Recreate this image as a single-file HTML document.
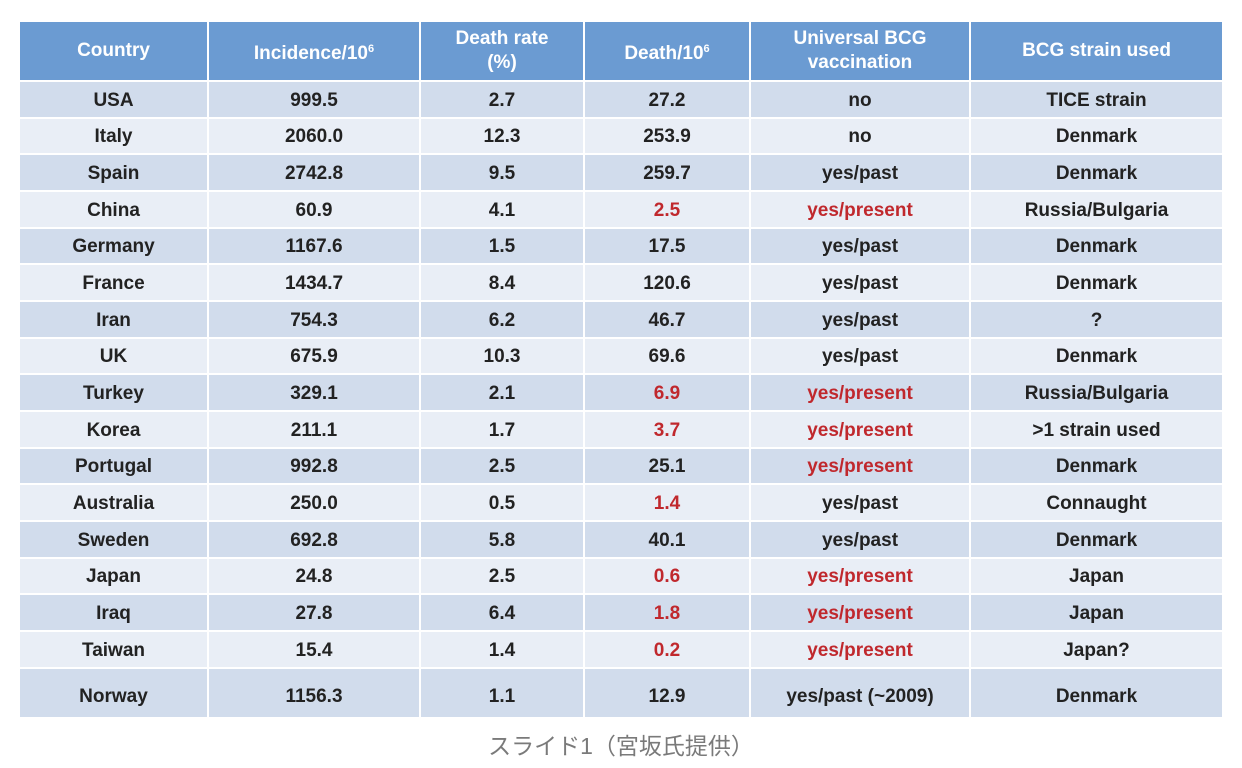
<!DOCTYPE html>
<html><head><meta charset="utf-8"><style>
html,body{margin:0;padding:0;background:#fff;width:1242px;height:768px;overflow:hidden}
table{position:absolute;left:20px;top:22px;border-collapse:collapse;table-layout:fixed;width:1202px;font-family:"Liberation Sans","Noto Sans CJK JP",sans-serif;font-weight:bold;font-size:19px;color:#222}
td,th{border:2px solid #fff;text-align:center;padding:0;box-sizing:border-box}
td{padding-top:3px}
table tr:first-child th{border-top:none}
td:first-child,th:first-child{border-left:none}
td:last-child,th:last-child{border-right:none}
th{background:#6b9bd2;color:#fff;height:59px;font-size:19px;line-height:24px}
tr.o td{background:#d1dcec}
tr.e td{background:#e9eef6}
td{height:36.67px}
tr.last td{height:49px;border-bottom:none;padding-top:9px}
.r{color:#c0282d}
sup{font-size:11px;vertical-align:7px}
.cap{position:absolute;top:727px;left:0;width:1242px;text-align:center;font-family:"Liberation Sans","Noto Sans CJK JP",sans-serif;font-size:23px;color:#7a7a7a}
</style></head><body>
<table>
<colgroup><col style="width:188px"><col style="width:212px"><col style="width:164px"><col style="width:166px"><col style="width:220px"><col style="width:252px"></colgroup>
<tr><th>Country</th><th>Incidence/10<sup>6</sup></th><th>Death rate<br>(%)</th><th>Death/10<sup>6</sup></th><th>Universal BCG<br>vaccination</th><th>BCG strain used</th></tr>
<tr class="o"><td>USA</td><td>999.5</td><td>2.7</td><td>27.2</td><td>no</td><td>TICE strain</td></tr>
<tr class="e"><td>Italy</td><td>2060.0</td><td>12.3</td><td>253.9</td><td>no</td><td>Denmark</td></tr>
<tr class="o"><td>Spain</td><td>2742.8</td><td>9.5</td><td>259.7</td><td>yes/past</td><td>Denmark</td></tr>
<tr class="e"><td>China</td><td>60.9</td><td>4.1</td><td class="r">2.5</td><td class="r">yes/present</td><td>Russia/Bulgaria</td></tr>
<tr class="o"><td>Germany</td><td>1167.6</td><td>1.5</td><td>17.5</td><td>yes/past</td><td>Denmark</td></tr>
<tr class="e"><td>France</td><td>1434.7</td><td>8.4</td><td>120.6</td><td>yes/past</td><td>Denmark</td></tr>
<tr class="o"><td>Iran</td><td>754.3</td><td>6.2</td><td>46.7</td><td>yes/past</td><td>?</td></tr>
<tr class="e"><td>UK</td><td>675.9</td><td>10.3</td><td>69.6</td><td>yes/past</td><td>Denmark</td></tr>
<tr class="o"><td>Turkey</td><td>329.1</td><td>2.1</td><td class="r">6.9</td><td class="r">yes/present</td><td>Russia/Bulgaria</td></tr>
<tr class="e"><td>Korea</td><td>211.1</td><td>1.7</td><td class="r">3.7</td><td class="r">yes/present</td><td>&gt;1 strain used</td></tr>
<tr class="o"><td>Portugal</td><td>992.8</td><td>2.5</td><td>25.1</td><td class="r">yes/present</td><td>Denmark</td></tr>
<tr class="e"><td>Australia</td><td>250.0</td><td>0.5</td><td class="r">1.4</td><td>yes/past</td><td>Connaught</td></tr>
<tr class="o"><td>Sweden</td><td>692.8</td><td>5.8</td><td>40.1</td><td>yes/past</td><td>Denmark</td></tr>
<tr class="e"><td>Japan</td><td>24.8</td><td>2.5</td><td class="r">0.6</td><td class="r">yes/present</td><td>Japan</td></tr>
<tr class="o"><td>Iraq</td><td>27.8</td><td>6.4</td><td class="r">1.8</td><td class="r">yes/present</td><td>Japan</td></tr>
<tr class="e"><td>Taiwan</td><td>15.4</td><td>1.4</td><td class="r">0.2</td><td class="r">yes/present</td><td>Japan?</td></tr>
<tr class="o last"><td>Norway</td><td>1156.3</td><td>1.1</td><td>12.9</td><td>yes/past (~2009)</td><td>Denmark</td></tr>
</table>
<div class="cap">スライド1（宮坂氏提供）</div>
</body></html>
